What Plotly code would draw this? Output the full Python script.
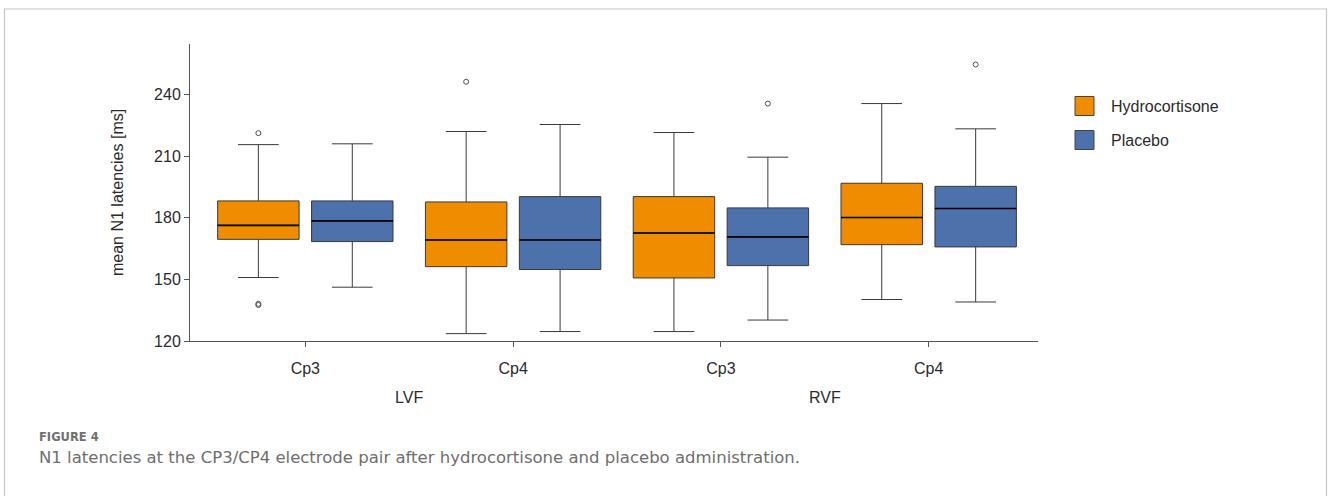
import plotly.graph_objects as go

# ---------------- data ----------------
fields = ["LVF", "RVF"]
electrodes = ["Cp3", "Cp4", "Cp3", "Cp4"]

hydro_q1 = [169.5, 156.2, 150.7, 166.9]
hydro_median = [176.3, 169.2, 172.6, 180.1]
hydro_q3 = [188.2, 187.7, 190.3, 196.8]
hydro_low = [150.9, 123.6, 124.6, 140.2]
hydro_high = [215.6, 222.0, 221.5, 235.6]

placebo_q1 = [168.4, 154.8, 156.7, 165.8]
placebo_median = [178.5, 169.2, 170.7, 184.5]
placebo_q3 = [188.2, 190.3, 184.8, 195.3]
placebo_low = [146.2, 124.6, 130.2, 139.0]
placebo_high = [216.0, 225.4, 209.5, 223.3]

hydro_out_idx = [0, 0, 0, 1]
hydro_out_val = [221.2, 138.1, 137.5, 246.2]
placebo_out_idx = [2, 3]
placebo_out_val = [235.6, 254.6]

y_ticks = [120, 150, 180, 210, 240]

# ---------------- style ----------------
ORANGE = "#F08C00"
BLUE = "#4C71AB"
EDGE = "#3a3a3a"
AX = "#555555"
TXT = "#2b2b2b"
FONT = "Liberation Sans"
OFF = 0.226
BW = 0.392

L, R, T, B = 190, 1038, 44, 341
W, H = 1328, 496


def px_x(p):
    return (p - L) / (R - L)


def px_y(p):
    return (B - p) / (B - T)


fig = go.Figure()

series = [
    ("Hydrocortisone", -OFF, ORANGE, hydro_q1, hydro_median, hydro_q3, hydro_low, hydro_high,
     hydro_out_idx, hydro_out_val),
    ("Placebo", OFF, BLUE, placebo_q1, placebo_median, placebo_q3, placebo_low, placebo_high,
     placebo_out_idx, placebo_out_val),
]

for name, off, col, q1, med, q3, lo, hi, oi, ov in series:
    xs = [i + off for i in range(len(electrodes))]
    fig.add_trace(go.Box(
        name=name, x=xs, q1=q1, median=med, q3=q3, lowerfence=lo, upperfence=hi,
        width=BW, whiskerwidth=0.5, fillcolor=col,
        line=dict(color=EDGE, width=1), boxpoints=False, showlegend=False,
        hoverinfo="skip",
    ))
    # darker median lines
    mx, my = [], []
    for x, m in zip(xs, med):
        mx += [x - BW / 2, x + BW / 2, None]
        my += [m, m, None]
    fig.add_trace(go.Scatter(x=mx, y=my, mode="lines", line=dict(color="#000000", width=1.6),
                             showlegend=False, hoverinfo="skip"))
    fig.add_trace(go.Scatter(
        x=[i + off for i in oi], y=ov, mode="markers",
        marker=dict(symbol="circle-open", size=5, color="#505050", line=dict(width=1)),
        showlegend=False, hoverinfo="skip"))

shapes = []
annotations = []

# legend (manual)
leg_items = [("Hydrocortisone", ORANGE, 106), ("Placebo", BLUE, 140)]
for name, col, cy in leg_items:
    shapes.append(dict(type="rect", xref="paper", yref="paper",
                       x0=px_x(1075), x1=px_x(1094), y0=px_y(cy + 9.5), y1=px_y(cy - 9.5),
                       fillcolor=col, line=dict(color="#444444", width=1)))
    annotations.append(dict(x=px_x(1109), y=px_y(cy), xref="paper", yref="paper",
                            text=name, showarrow=False, xanchor="left", yanchor="middle",
                            font=dict(family=FONT, size=16, color=TXT)))

# group labels
for gi, g in enumerate(fields):
    annotations.append(dict(x=2 * gi + 0.5, y=px_y(398), xref="x", yref="paper",
                            text=g, showarrow=False, xanchor="center", yanchor="middle",
                            font=dict(family=FONT, size=16, color=TXT)))

# y axis title
annotations.append(dict(x=px_x(117), y=px_y(193), xref="paper", yref="paper",
                        text="mean N1 latencies [ms]", textangle=-90, showarrow=False,
                        xanchor="center", yanchor="middle",
                        font=dict(family=FONT, size=16, color=TXT)))

# caption
annotations.append(dict(x=px_x(37), y=px_y(436.5), xref="paper", yref="paper",
                        text="<b>FIGURE 4</b>", showarrow=False, xanchor="left", yanchor="middle",
                        font=dict(family="DejaVu Sans", size=11.5, color="#707070")))
annotations.append(dict(x=px_x(37), y=px_y(457), xref="paper", yref="paper",
                        text="N1 latencies at the CP3/CP4 electrode pair after hydrocortisone and placebo administration.",
                        showarrow=False, xanchor="left", yanchor="middle",
                        font=dict(family="DejaVu Sans", size=16.5, color="#6e6e6e")))

# frame
fx0, fx1, fy0, fy1 = px_x(4.5), px_x(1326.5), px_y(9), px_y(520)
shapes.append(dict(type="path", xref="paper", yref="paper",
                   path=f"M {fx0},{fy1} L {fx0},{fy0} L {fx1},{fy0} L {fx1},{fy1}",
                   line=dict(color="#c6c6c6", width=1.2)))

fig.update_layout(
    width=W, height=H,
    margin=dict(l=L, r=W - R, t=T, b=H - B, pad=0),
    paper_bgcolor="white", plot_bgcolor="white",
    boxmode="overlay",
    font=dict(family=FONT, size=16, color=TXT),
    shapes=shapes, annotations=annotations,
    xaxis=dict(range=[-0.555, 3.526], tickmode="array", tickvals=list(range(len(electrodes))),
               ticktext=electrodes, showline=True, linecolor=AX, linewidth=1,
               ticks="outside", ticklen=5, tickcolor=AX, showgrid=False, zeroline=False,
               ticklabelstandoff=8, tickfont=dict(family=FONT, size=16, color=TXT)),
    yaxis=dict(range=[120, 264.6], tickmode="array", tickvals=y_ticks,
               showline=True, linecolor=AX, linewidth=1,
               ticks="outside", ticklen=5, tickcolor=AX, showgrid=False, zeroline=False,
               tickfont=dict(family=FONT, size=16, color=TXT)),
)

fig.write_html("out.html", config={"displayModeBar": False},
               post_script="document.body.style.margin='0';document.body.style.overflow='hidden';")
